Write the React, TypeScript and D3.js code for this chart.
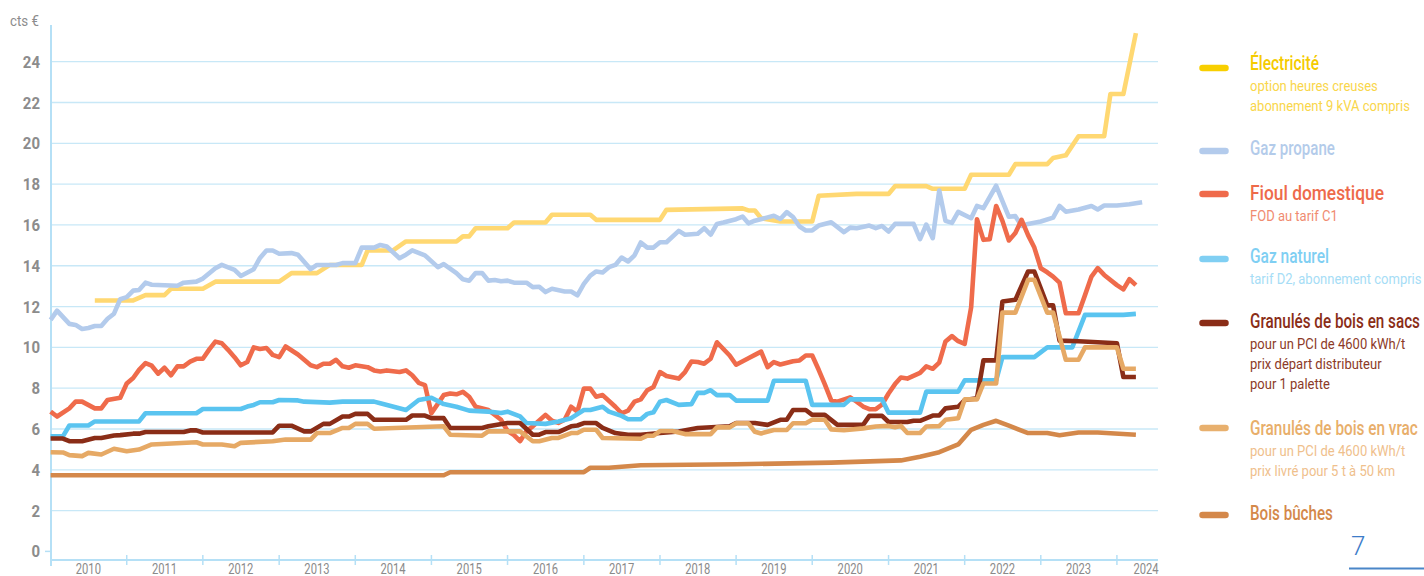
"use client";

import { useEffect, useRef } from "react";
import * as d3 from "d3";

type Point = [string, number];

// prix en cts € par kWh, relevés mensuels
const ELECTRICITE: Point[] = [
  ["2010-08", 12.3], ["2011-02", 12.3], ["2011-04", 12.56], ["2011-07", 12.56], ["2011-08", 12.87],
  ["2012-01", 12.87], ["2012-03", 13.22], ["2013-01", 13.22], ["2013-03", 13.64], ["2013-07", 13.64],
  ["2013-09", 14.04], ["2014-02", 14.04], ["2014-03", 14.75], ["2014-07", 14.75], ["2014-09", 15.19],
  ["2015-05", 15.19], ["2015-06", 15.44], ["2015-07", 15.44], ["2015-08", 15.84], ["2016-01", 15.84],
  ["2016-02", 16.12], ["2016-07", 16.12], ["2016-08", 16.5], ["2017-02", 16.5], ["2017-03", 16.25],
  ["2018-01", 16.25], ["2018-02", 16.74], ["2019-02", 16.81], ["2019-03", 16.71], ["2019-04", 16.71],
  ["2019-05", 16.33], ["2019-08", 16.17], ["2020-01", 16.17], ["2020-02", 17.43], ["2020-08", 17.52],
  ["2021-01", 17.52], ["2021-02", 17.9], ["2021-07", 17.9], ["2021-08", 17.77], ["2022-01", 17.77],
  ["2022-02", 18.46], ["2022-08", 18.46], ["2022-09", 18.98], ["2023-02", 18.98], ["2023-03", 19.28],
  ["2023-05", 19.41], ["2023-07", 20.35], ["2023-11", 20.35], ["2023-12", 22.42], ["2024-02", 22.42],
  ["2024-04", 25.4],
];

const GAZ_PROPANE: Point[] = [
  ["2010-01", 11.35], ["2010-02", 11.8], ["2010-04", 11.15], ["2010-05", 11.1], ["2010-06", 10.9],
  ["2010-07", 10.95], ["2010-08", 11.05], ["2010-09", 11.05], ["2010-10", 11.4], ["2010-11", 11.65],
  ["2010-12", 12.36], ["2011-01", 12.46], ["2011-02", 12.78], ["2011-03", 12.81], ["2011-04", 13.17],
  ["2011-05", 13.07], ["2011-09", 13.02], ["2011-10", 13.17], ["2011-12", 13.22], ["2012-01", 13.37],
  ["2012-03", 13.88], ["2012-04", 14.04], ["2012-06", 13.8], ["2012-07", 13.5], ["2012-09", 13.83],
  ["2012-10", 14.38], ["2012-11", 14.75], ["2012-12", 14.75], ["2013-01", 14.59], ["2013-03", 14.62],
  ["2013-04", 14.54], ["2013-06", 13.83], ["2013-07", 14.04], ["2013-10", 14.04], ["2013-11", 14.13],
  ["2014-01", 14.13], ["2014-02", 14.89], ["2014-04", 14.89], ["2014-05", 15.02], ["2014-06", 14.94],
  ["2014-08", 14.37], ["2014-09", 14.54], ["2014-10", 14.75], ["2014-12", 14.51], ["2015-02", 13.93],
  ["2015-03", 14.08], ["2015-05", 13.64], ["2015-06", 13.34], ["2015-07", 13.27], ["2015-08", 13.64],
  ["2015-09", 13.64], ["2015-10", 13.27], ["2015-11", 13.3], ["2015-12", 13.24], ["2016-01", 13.27],
  ["2016-02", 13.17], ["2016-04", 13.17], ["2016-05", 12.95], ["2016-06", 12.97], ["2016-07", 12.71],
  ["2016-08", 12.87], ["2016-10", 12.74], ["2016-11", 12.74], ["2016-12", 12.55], ["2017-01", 13.11],
  ["2017-02", 13.52], ["2017-03", 13.72], ["2017-04", 13.67], ["2017-05", 13.93], ["2017-06", 14.04],
  ["2017-07", 14.4], ["2017-08", 14.21], ["2017-09", 14.51], ["2017-10", 15.14], ["2017-11", 14.89],
  ["2017-12", 14.89], ["2018-01", 15.15], ["2018-02", 15.15], ["2018-04", 15.71], ["2018-05", 15.52],
  ["2018-07", 15.57], ["2018-08", 15.84], ["2018-09", 15.52], ["2018-10", 16.05], ["2018-11", 16.12],
  ["2019-01", 16.28], ["2019-02", 16.41], ["2019-03", 16.08], ["2019-04", 16.21], ["2019-06", 16.37],
  ["2019-07", 16.45], ["2019-08", 16.29], ["2019-09", 16.63], ["2019-10", 16.39], ["2019-11", 15.92],
  ["2019-12", 15.73], ["2020-01", 15.73], ["2020-02", 15.97], ["2020-04", 16.13], ["2020-06", 15.65],
  ["2020-07", 15.87], ["2020-08", 15.84], ["2020-10", 15.97], ["2020-11", 15.84], ["2020-12", 15.95],
  ["2021-01", 15.68], ["2021-02", 16.05], ["2021-05", 16.05], ["2021-06", 15.3], ["2021-07", 16.02],
  ["2021-08", 15.35], ["2021-09", 17.69], ["2021-10", 16.2], ["2021-11", 16.1], ["2021-12", 16.64],
  ["2022-02", 16.33], ["2022-03", 16.93], ["2022-04", 16.82], ["2022-06", 17.92], ["2022-08", 16.4],
  ["2022-09", 16.43], ["2022-10", 15.95], ["2022-11", 16.05], ["2023-01", 16.17], ["2023-03", 16.36],
  ["2023-04", 16.93], ["2023-05", 16.65], ["2023-07", 16.76], ["2023-09", 16.93], ["2023-10", 16.76],
  ["2023-11", 16.95], ["2024-01", 16.95], ["2024-03", 17.01], ["2024-05", 17.11],
];

const FIOUL: Point[] = [
  ["2010-01", 6.85], ["2010-02", 6.61], ["2010-04", 7.01], ["2010-05", 7.34], ["2010-06", 7.34],
  ["2010-08", 7.01], ["2010-09", 7.01], ["2010-10", 7.42], ["2010-12", 7.53], ["2011-01", 8.23],
  ["2011-02", 8.5], ["2011-03", 8.9], ["2011-04", 9.23], ["2011-05", 9.1], ["2011-06", 8.71],
  ["2011-07", 9.0], ["2011-08", 8.63], ["2011-09", 9.07], ["2011-10", 9.07], ["2011-11", 9.3],
  ["2011-12", 9.44], ["2012-01", 9.44], ["2012-02", 9.9], ["2012-03", 10.28], ["2012-04", 10.2],
  ["2012-05", 9.88], ["2012-06", 9.52], ["2012-07", 9.12], ["2012-08", 9.28], ["2012-09", 10.0],
  ["2012-10", 9.92], ["2012-11", 9.97], ["2012-12", 9.63], ["2013-01", 9.52], ["2013-02", 10.04],
  ["2013-04", 9.65], ["2013-05", 9.39], ["2013-06", 9.12], ["2013-07", 9.03], ["2013-08", 9.2],
  ["2013-09", 9.2], ["2013-10", 9.39], ["2013-11", 9.07], ["2013-12", 9.0], ["2014-01", 9.12],
  ["2014-03", 9.03], ["2014-04", 8.87], ["2014-05", 8.82], ["2014-06", 8.87], ["2014-08", 8.79],
  ["2014-09", 8.87], ["2014-10", 8.63], ["2014-11", 8.26], ["2014-12", 8.15], ["2015-01", 6.77],
  ["2015-03", 7.66], ["2015-04", 7.74], ["2015-05", 7.7], ["2015-06", 7.82], ["2015-07", 7.58],
  ["2015-08", 7.09], ["2015-10", 6.93], ["2015-12", 6.45], ["2016-01", 5.9], ["2016-02", 5.7],
  ["2016-03", 5.4], ["2016-04", 5.9], ["2016-05", 6.13], ["2016-07", 6.69], ["2016-08", 6.4],
  ["2016-09", 6.3], ["2016-10", 6.45], ["2016-11", 7.09], ["2016-12", 6.85], ["2017-01", 7.98],
  ["2017-02", 7.98], ["2017-03", 7.58], ["2017-04", 7.66], ["2017-06", 7.09], ["2017-07", 6.77],
  ["2017-08", 6.9], ["2017-09", 7.34], ["2017-10", 7.45], ["2017-11", 7.9], ["2017-12", 8.06],
  ["2018-01", 8.79], ["2018-02", 8.6], ["2018-04", 8.47], ["2018-05", 8.79], ["2018-06", 9.31],
  ["2018-07", 9.28], ["2018-08", 9.2], ["2018-09", 9.44], ["2018-10", 10.25], ["2018-12", 9.6],
  ["2019-01", 9.15], ["2019-03", 9.47], ["2019-04", 9.63], ["2019-05", 9.79], ["2019-06", 9.03],
  ["2019-07", 9.28], ["2019-08", 9.16], ["2019-10", 9.32], ["2019-11", 9.36], ["2019-12", 9.6],
  ["2020-01", 9.6], ["2020-02", 8.9], ["2020-03", 8.2], ["2020-04", 7.4], ["2020-05", 7.34],
  ["2020-07", 7.55], ["2020-08", 7.34], ["2020-09", 7.1], ["2020-10", 6.97], ["2020-11", 6.97],
  ["2020-12", 7.2], ["2021-01", 7.74], ["2021-02", 8.2], ["2021-03", 8.52], ["2021-04", 8.47],
  ["2021-06", 8.75], ["2021-07", 9.07], ["2021-08", 8.95], ["2021-09", 9.25], ["2021-10", 10.29],
  ["2021-11", 10.55], ["2021-12", 10.3], ["2022-01", 10.17], ["2022-02", 11.96], ["2022-03", 16.28],
  ["2022-04", 15.27], ["2022-05", 15.3], ["2022-06", 16.93], ["2022-07", 16.2], ["2022-08", 15.24],
  ["2022-09", 15.6], ["2022-10", 16.25], ["2022-11", 15.5], ["2022-12", 14.89], ["2023-01", 13.88],
  ["2023-02", 13.68], ["2023-03", 13.47], ["2023-04", 13.17], ["2023-05", 11.67], ["2023-07", 11.67],
  ["2023-08", 12.56], ["2023-09", 13.47], ["2023-10", 13.88], ["2023-11", 13.55], ["2024-01", 13.05],
  ["2024-02", 12.84], ["2024-03", 13.34], ["2024-04", 13.05],
];

const GAZ_NATUREL: Point[] = [
  ["2010-01", 5.64], ["2010-03", 5.64], ["2010-04", 6.17], ["2010-07", 6.17], ["2010-08", 6.37],
  ["2011-03", 6.37], ["2011-04", 6.77], ["2011-12", 6.77], ["2012-01", 6.98], ["2012-07", 6.98],
  ["2012-08", 7.1], ["2012-09", 7.18], ["2012-10", 7.31], ["2012-12", 7.31], ["2013-01", 7.42],
  ["2013-04", 7.4], ["2013-05", 7.34], ["2013-09", 7.29], ["2013-11", 7.34], ["2014-04", 7.34],
  ["2014-05", 7.26], ["2014-09", 6.93], ["2014-11", 7.42], ["2015-01", 7.53], ["2015-03", 7.22],
  ["2015-05", 7.09], ["2015-07", 6.9], ["2015-10", 6.85], ["2015-12", 6.78], ["2016-01", 6.85],
  ["2016-03", 6.62], ["2016-04", 6.29], ["2016-07", 6.25], ["2016-09", 6.37], ["2016-11", 6.53],
  ["2017-01", 6.93], ["2017-02", 6.93], ["2017-04", 7.09], ["2017-05", 6.85], ["2017-07", 6.64],
  ["2017-08", 6.48], ["2017-10", 6.48], ["2017-11", 6.74], ["2017-12", 6.82], ["2018-01", 7.34],
  ["2018-02", 7.42], ["2018-04", 7.18], ["2018-06", 7.22], ["2018-07", 7.77], ["2018-08", 7.77],
  ["2018-09", 7.9], ["2018-10", 7.66], ["2018-12", 7.66], ["2019-01", 7.39], ["2019-06", 7.39],
  ["2019-07", 8.36], ["2019-12", 8.36], ["2020-01", 7.18], ["2020-06", 7.18], ["2020-07", 7.45],
  ["2020-12", 7.45], ["2021-01", 6.8], ["2021-06", 6.8], ["2021-07", 7.83], ["2021-12", 7.83],
  ["2022-01", 8.38], ["2022-06", 8.38], ["2022-07", 9.52], ["2022-12", 9.52], ["2023-02", 10.0],
  ["2023-06", 10.0], ["2023-08", 11.59], ["2024-02", 11.59], ["2024-04", 11.64],
];

const GRANULES_SACS: Point[] = [
  ["2010-01", 5.53], ["2010-03", 5.53], ["2010-04", 5.4], ["2010-06", 5.4], ["2010-08", 5.56],
  ["2010-09", 5.56], ["2010-11", 5.68], ["2010-12", 5.7], ["2011-02", 5.77], ["2011-03", 5.77],
  ["2011-04", 5.85], ["2011-10", 5.85], ["2011-11", 5.93], ["2011-12", 5.93], ["2012-01", 5.83],
  ["2012-12", 5.83], ["2013-01", 6.16], ["2013-03", 6.16], ["2013-05", 5.88], ["2013-06", 5.88],
  ["2013-08", 6.25], ["2013-09", 6.25], ["2013-11", 6.61], ["2013-12", 6.61], ["2014-01", 6.74],
  ["2014-03", 6.74], ["2014-04", 6.45], ["2014-09", 6.45], ["2014-10", 6.66], ["2014-12", 6.66],
  ["2015-01", 6.53], ["2015-03", 6.53], ["2015-04", 6.05], ["2015-09", 6.05], ["2015-10", 6.13],
  ["2016-01", 6.29], ["2016-03", 6.29], ["2016-05", 5.72], ["2016-06", 5.72], ["2016-07", 5.85],
  ["2016-09", 5.85], ["2016-11", 6.13], ["2016-12", 6.17], ["2017-01", 6.29], ["2017-03", 6.29],
  ["2017-04", 6.05], ["2017-06", 5.8], ["2017-08", 5.72], ["2017-10", 5.72], ["2018-01", 5.8],
  ["2018-04", 5.88], ["2018-07", 6.05], ["2018-12", 6.13], ["2019-01", 6.29], ["2019-04", 6.29],
  ["2019-06", 6.2], ["2019-08", 6.45], ["2019-09", 6.45], ["2019-10", 6.93], ["2019-12", 6.93],
  ["2020-01", 6.69], ["2020-03", 6.69], ["2020-05", 6.2], ["2020-09", 6.2], ["2020-10", 6.64],
  ["2020-12", 6.64], ["2021-01", 6.34], ["2021-04", 6.34], ["2021-05", 6.4], ["2021-06", 6.4],
  ["2021-08", 6.66], ["2021-09", 6.66], ["2021-10", 7.01], ["2021-12", 7.09], ["2022-01", 7.42],
  ["2022-03", 7.5], ["2022-04", 9.36], ["2022-06", 9.36], ["2022-07", 12.25], ["2022-09", 12.33],
  ["2022-11", 13.72], ["2022-12", 13.72], ["2023-02", 12.06], ["2023-03", 12.06], ["2023-04", 10.33],
  ["2023-07", 10.3], ["2024-01", 10.2], ["2024-02", 8.55], ["2024-04", 8.55],
];

const GRANULES_VRAC: Point[] = [
  ["2010-01", 4.86], ["2010-03", 4.85], ["2010-04", 4.72], ["2010-06", 4.67], ["2010-07", 4.83],
  ["2010-09", 4.75], ["2010-11", 5.03], ["2011-01", 4.91], ["2011-03", 4.99], ["2011-05", 5.24],
  ["2011-12", 5.35], ["2012-01", 5.24], ["2012-04", 5.24], ["2012-06", 5.15], ["2012-07", 5.32],
  ["2012-12", 5.4], ["2013-02", 5.48], ["2013-06", 5.48], ["2013-07", 5.8], ["2013-09", 5.8],
  ["2013-11", 6.05], ["2013-12", 6.05], ["2014-01", 6.25], ["2014-03", 6.25], ["2014-04", 6.01],
  ["2015-03", 6.13], ["2015-04", 5.72], ["2015-09", 5.67], ["2015-10", 5.88], ["2016-03", 5.88],
  ["2016-05", 5.4], ["2016-06", 5.4], ["2016-08", 5.56], ["2016-09", 5.56], ["2016-11", 5.8],
  ["2016-12", 5.8], ["2017-01", 5.96], ["2017-03", 5.96], ["2017-04", 5.56], ["2017-10", 5.52],
  ["2017-11", 5.67], ["2017-12", 5.67], ["2018-01", 5.9], ["2018-03", 5.9], ["2018-05", 5.75],
  ["2018-09", 5.75], ["2018-10", 6.08], ["2018-12", 6.08], ["2019-01", 6.28], ["2019-03", 6.28],
  ["2019-04", 5.86], ["2019-05", 5.78], ["2019-07", 5.95], ["2019-09", 5.95], ["2019-10", 6.28],
  ["2019-12", 6.28], ["2020-01", 6.45], ["2020-03", 6.45], ["2020-04", 5.98], ["2020-06", 5.94],
  ["2020-09", 6.03], ["2020-11", 6.12], ["2021-01", 6.15], ["2021-02", 6.08], ["2021-03", 6.15],
  ["2021-04", 5.8], ["2021-06", 5.8], ["2021-07", 6.12], ["2021-09", 6.14], ["2021-10", 6.45],
  ["2021-12", 6.53], ["2022-01", 7.45], ["2022-03", 7.45], ["2022-04", 8.23], ["2022-06", 8.23],
  ["2022-07", 11.7], ["2022-09", 11.7], ["2022-11", 13.31], ["2022-12", 13.31], ["2023-02", 11.7],
  ["2023-03", 11.7], ["2023-05", 9.39], ["2023-07", 9.39], ["2023-08", 10.0], ["2024-01", 10.0],
  ["2024-02", 8.95], ["2024-04", 8.95],
];

const BOIS_BUCHES: Point[] = [
  ["2010-01", 3.73], ["2015-03", 3.73], ["2015-04", 3.88], ["2017-01", 3.88], ["2017-02", 4.1],
  ["2017-05", 4.1], ["2017-10", 4.22], ["2019-01", 4.27], ["2020-04", 4.35], ["2021-03", 4.46],
  ["2021-06", 4.64], ["2021-09", 4.86], ["2021-12", 5.24], ["2022-02", 5.96], ["2022-04", 6.2],
  ["2022-06", 6.4], ["2022-08", 6.16], ["2022-11", 5.8], ["2023-02", 5.8], ["2023-04", 5.69],
  ["2023-07", 5.83], ["2023-10", 5.83], ["2024-04", 5.72],
];

const SERIES_DATA = [ELECTRICITE, GAZ_PROPANE, FIOUL, GAZ_NATUREL, GRANULES_SACS, GRANULES_VRAC, BOIS_BUCHES];

const SERIES_TITLES = [
  "Électricité", "Gaz propane", "Fioul domestique", "Gaz naturel",
  "Granulés de bois en sacs", "Granulés de bois en vrac", "Bois bûches",
];

const SERIES_NOTES = [
  ["option heures creuses", "abonnement 9 kVA compris"],
  [],
  ["FOD au tarif C1"],
  ["tarif D2, abonnement compris"],
  ["pour un PCI de 4600 kWh/t", "prix départ distributeur", "pour 1 palette"],
  ["pour un PCI de 4600 kWh/t", "prix livré pour 5 t à 50 km"],
  [],
];

const Y_TICKS = [0, 2, 4, 6, 8, 10, 12, 14, 16, 18, 20, 22, 24];
const YEARS = [2010, 2011, 2012, 2013, 2014, 2015, 2016, 2017, 2018, 2019, 2020, 2021, 2022, 2023, 2024];

// --- styles ---
const LINE_COLORS   = ["#ffd872", "#b3cbec", "#ef6b4b", "#5ac4f0", "#8a2d17", "#e6a965", "#d4884a"];
const SWATCH_COLORS = ["#f8cf00", "#b3cbec", "#ef6a4b", "#80cff3", "#8a2d17", "#e8b06e", "#d4884a"];
const TITLE_COLORS  = ["#f5cb00", "#b3cbea", "#ee6a4a", "#7fcff3", "#8a2d17", "#e8ae6a", "#d4884a"];
const NOTE_COLORS   = ["#f9d64a", "#b3cbea", "#f08b70", "#a6ddf6", "#8c3a27", "#efc08c", "#d4884a"];

// legend layout (condensed titles are squeezed to these widths)
const LEGEND_SWATCH_Y = [68, 151, 194, 259, 323, 428, 515];
const LEGEND_TITLE_Y  = [70, 155, 200, 263, 328, 435, 520];
const LEGEND_TITLE_W  = [69, 85, 134, 79, 170, 168, 83];

const W = 1424, H = 576;
const FONT = "Roboto, 'Noto Sans', 'DejaVu Sans', sans-serif";
const GRID = "#c8e8f7";
const AXIS = "#b5e0f6";

export default function App() {
  const svgRef = useRef<SVGSVGElement>(null);

  useEffect(() => {
    if (!svgRef.current) return;
    document.body.style.margin = "0";
    const svg = d3.select(svgRef.current);
    svg.selectAll("*").remove();

    const parse = d3.timeParse("%Y-%m");
    const x = d3.scaleTime().domain([new Date(2010, 0, 1), new Date(2024, 6, 16)]).range([50.6, 1158]);
    const y = d3.scaleLinear().domain([0, 24]).range([551.4, 61.7]);
    const axisY = 560, axisX = 51;

    // condensed-looking text: horizontal squeeze
    const ctext = (
      g: d3.Selection<SVGGElement, unknown, null, undefined>,
      tx: number, ty: number, str: string, size: number, fill: string,
      sx: number, anchor = "start", weight = "normal",
    ) =>
      g.append("text")
        .attr("transform", `translate(${tx},${ty}) scale(${sx},1)`)
        .attr("text-anchor", anchor)
        .attr("font-family", FONT)
        .attr("font-size", size)
        .attr("font-weight", weight)
        .attr("fill", fill)
        .text(str);

    const root = svg.append("g");

    // --- Grid ---
    root.append("g")
      .selectAll("line")
      .data(Y_TICKS.filter((t) => t > 0))
      .join("line")
      .attr("x1", axisX).attr("x2", x.range()[1])
      .attr("y1", (d) => y(d)).attr("y2", (d) => y(d))
      .attr("stroke", GRID).attr("stroke-width", 1.3);

    // --- Axes ---
    root.append("line")
      .attr("x1", axisX).attr("x2", axisX).attr("y1", 25).attr("y2", 566)
      .attr("stroke", AXIS).attr("stroke-width", 2);
    root.append("line")
      .attr("x1", axisX).attr("x2", x.range()[1]).attr("y1", axisY).attr("y2", axisY)
      .attr("stroke", AXIS).attr("stroke-width", 2);
    root.append("line")
      .attr("x1", axisX - 6).attr("x2", axisX).attr("y1", y(0)).attr("y2", y(0))
      .attr("stroke", AXIS).attr("stroke-width", 1.5);

    root.append("g")
      .selectAll("line")
      .data(YEARS.slice(1))
      .join("line")
      .attr("x1", (d) => x(new Date(d, 0, 1))).attr("x2", (d) => x(new Date(d, 0, 1)))
      .attr("y1", axisY - 5).attr("y2", axisY + 5)
      .attr("stroke", AXIS).attr("stroke-width", 1.5);

    const labels = root.append("g");
    Y_TICKS.forEach((t) => {
      ctext(labels, 40, y(t) + 6, String(t), 17, "#8c8c8c", 0.88, "end", "bold");
    });
    YEARS.forEach((yr) => {
      const cx = Math.min(x(new Date(yr, 6, 1)), x.range()[1] - 12);
      ctext(labels, cx, 574, String(yr), 14, "#8a8a8a", 0.8, "middle");
    });
    ctext(labels, 10, 26, "cts €", 14, "#8c8c8c", 0.95);

    // --- Lines ---
    const line = d3.line<Point>()
      .x((d) => x(parse(d[0]) as Date))
      .y((d) => y(d[1]));

    root.append("g")
      .selectAll("path")
      .data(SERIES_DATA)
      .join("path")
      .attr("d", (d) => line(d))
      .attr("fill", "none")
      .attr("stroke", (_, i) => LINE_COLORS[i])
      .attr("stroke-width", 4.6)
      .attr("stroke-linejoin", "round");

    // --- Legend ---
    const legend = root.append("g");
    SERIES_TITLES.forEach((title, i) => {
      legend.append("line")
        .attr("x1", 1202.5).attr("x2", 1225.5)
        .attr("y1", LEGEND_SWATCH_Y[i]).attr("y2", LEGEND_SWATCH_Y[i])
        .attr("stroke", SWATCH_COLORS[i]).attr("stroke-width", 6.5)
        .attr("stroke-linecap", "round");
      const t = ctext(legend, 1250, LEGEND_TITLE_Y[i], title, 21, TITLE_COLORS[i], 1, "start", "500");
      const natural = (t.node() as SVGTextElement).getComputedTextLength() || LEGEND_TITLE_W[i];
      t.attr("transform", `translate(1250,${LEGEND_TITLE_Y[i]}) scale(${LEGEND_TITLE_W[i] / natural},1)`);
      SERIES_NOTES[i].forEach((note, j) => {
        ctext(legend, 1250, LEGEND_TITLE_Y[i] + 21 + j * 20, note, 15.5, NOTE_COLORS[i], 0.84);
      });
    });

    // page number
    ctext(root, 1351, 555, "7", 26, "#3d7cc9", 1, "start", "300");
    root.append("line")
      .attr("x1", 1349).attr("x2", W).attr("y1", 568.5).attr("y2", 568.5)
      .attr("stroke", "#4a86c8").attr("stroke-width", 2);
  }, []);

  return (
    <svg
      ref={svgRef}
      width={W}
      height={H}
      viewBox={`0 0 ${W} ${H}`}
      style={{ position: "absolute", left: 0, top: 0, background: "#fff", display: "block" }}
    />
  );
}
